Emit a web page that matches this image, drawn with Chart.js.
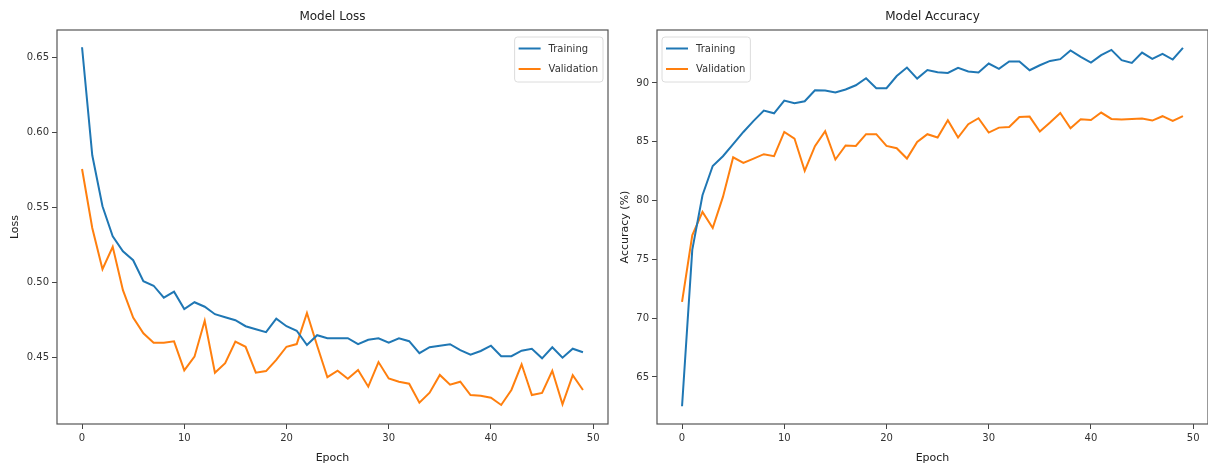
<!DOCTYPE html>
<html><head><meta charset="utf-8">
<script src="https://cdn.jsdelivr.net/npm/chart.js@4.4.1/dist/chart.umd.min.js"></script>
<style>
html,body{margin:0;padding:0;background:#fff;overflow:hidden;width:1208px;height:471px}
#c1{position:absolute;left:0;top:0}
#c2{position:absolute;left:612px;top:0}
</style></head><body>
<canvas id="c1" width="612" height="471"></canvas>
<canvas id="c2" width="596" height="471"></canvas>
<script>
const epochs = [0,1,2,3,4,5,6,7,8,9,10,11,12,13,14,15,16,17,18,19,20,21,22,23,24,25,26,27,28,29,30,31,32,33,34,35,36,37,38,39,40,41,42,43,44,45,46,47,48,49];
const trainLoss = [0.657,0.585,0.551,0.531,0.521,0.515,0.501,0.498,0.490,0.494,0.4825,0.487,0.484,0.479,0.477,0.475,0.471,0.469,0.467,0.476,0.471,0.468,0.4585,0.465,0.463,0.463,0.463,0.459,0.462,0.463,0.460,0.463,0.461,0.453,0.457,0.458,0.459,0.455,0.452,0.4545,0.458,0.451,0.451,0.4547,0.456,0.4496,0.457,0.450,0.456,0.4536];
const valLoss = [0.5758,0.5365,0.509,0.524,0.495,0.4767,0.4663,0.460,0.460,0.4609,0.4416,0.4507,0.4747,0.440,0.4463,0.4607,0.4573,0.440,0.4411,0.4485,0.4573,0.4591,0.4798,0.458,0.437,0.4413,0.436,0.4418,0.4307,0.4471,0.4362,0.434,0.4327,0.420,0.4267,0.4385,0.432,0.434,0.4251,0.4247,0.4233,0.4185,0.4285,0.4456,0.4251,0.4265,0.4413,0.4189,0.4383,0.4285];
const trainAcc = [62.51,75.8,80.45,82.94,83.77,84.79,85.83,86.77,87.65,87.42,88.5,88.27,88.44,89.38,89.35,89.18,89.44,89.8,90.4,89.55,89.55,90.59,91.31,90.37,91.1,90.91,90.85,91.28,90.97,90.88,91.65,91.19,91.82,91.82,91.08,91.5,91.87,92.02,92.76,92.21,91.73,92.36,92.81,91.93,91.7,92.58,92.04,92.47,91.99,92.98];
const valAcc = [71.38,77.05,79.03,77.67,80.31,83.68,83.2,83.57,83.94,83.77,85.83,85.27,82.52,84.62,85.89,83.49,84.68,84.64,85.64,85.64,84.64,84.45,83.57,84.98,85.64,85.36,86.83,85.36,86.49,87.0,85.78,86.2,86.26,87.11,87.14,85.87,86.63,87.45,86.15,86.91,86.85,87.48,86.94,86.88,86.94,86.97,86.8,87.17,86.77,87.17];
const xTickLabels = ['0','10','20','30','40','50'];
const lossTickLabels = ['0.45','0.50','0.55','0.60','0.65'];
const accTickLabels = ['65','70','75','80','85','90'];
const seriesNames = ['Training','Validation'];
const lossRange = [0.4058, 0.6685];
const accRange = [61.0, 94.5];
const xRange = [-2.45, 51.45];

const BLUE = '#1f77b4', ORANGE = '#ff7f0e';
const FONT = '"DejaVu Sans", sans-serif';

const boxPlugin = {
  id: 'box',
  afterDraw(chart) {
    const {ctx, chartArea: a} = chart;
    ctx.save();
    ctx.strokeStyle = '#555';
    ctx.lineWidth = 1.2;
    ctx.strokeRect(a.left, a.top, a.right - a.left, a.bottom - a.top);
    ctx.restore();
  }
};

function legendPlugin(side) {
  return {
    id: 'lg',
    afterDatasetsDraw(chart) {
      const {ctx, chartArea: a} = chart;
      const ds = chart.data.datasets;
      ctx.save();
      ctx.font = '10px ' + FONT;
      const tw = Math.max(...ds.map(d => ctx.measureText(d.label).width));
      const w = 34 + tw + 5, h = 45;
      const x0 = side === 'right' ? a.right - 5 - w : a.left + 5;
      const y0 = a.top + 7;
      ctx.beginPath();
      ctx.roundRect(x0, y0, w, h, 3);
      ctx.fillStyle = 'rgba(255,255,255,0.85)';
      ctx.fill();
      ctx.strokeStyle = '#dcdcdc';
      ctx.lineWidth = 1;
      ctx.stroke();
      ds.forEach((d, i) => {
        const cy = y0 + 11.5 + i * 20.5;
        ctx.beginPath();
        ctx.moveTo(x0 + 4, cy);
        ctx.lineTo(x0 + 26, cy);
        ctx.strokeStyle = d.borderColor;
        ctx.lineWidth = 2;
        ctx.stroke();
        ctx.fillStyle = '#333';
        ctx.textBaseline = 'middle';
        ctx.textAlign = 'left';
        ctx.fillText(d.label, x0 + 34, cy + 0.5);
      });
      ctx.restore();
    }
  };
}

function makeChart(id, title, yTitle, series, yLabels, yRange, yWidth, yTitlePad, padRight, legendSide) {
  const yVals = yLabels.map(parseFloat);
  const xVals = xTickLabels.map(parseFloat);
  return new Chart(document.getElementById(id), {
    type: 'line',
    data: {
      datasets: series.map((s, k) => ({
        label: seriesNames[k],
        data: epochs.map((e, i) => ({x: e, y: s[i]})),
        borderColor: k === 0 ? BLUE : ORANGE,
        backgroundColor: k === 0 ? BLUE : ORANGE,
        borderWidth: 2,
        pointRadius: 0,
        tension: 0,
        fill: false
      }))
    },
    options: {
      responsive: false,
      animation: false,
      events: [],
      layout: {padding: {left: 0, right: padRight, top: 0, bottom: 0}},
      plugins: {
        legend: {display: false},
        tooltip: {enabled: false},
        title: {
          display: true, text: title, fullSize: false,
          color: '#222',
          font: {family: FONT, size: 12, weight: 'normal'},
          padding: {top: 10, bottom: 5.6}
        }
      },
      scales: {
        x: {
          type: 'linear', min: xRange[0], max: xRange[1],
          afterBuildTicks: s => { s.ticks = xVals.map(v => ({value: v})); },
          afterFit: s => { s.height = 47; },
          ticks: {
            autoSkip: false, maxRotation: 0, padding: 3,
            color: '#333', font: {family: FONT, size: 10},
            callback: v => xTickLabels[xVals.indexOf(v)]
          },
          grid: {drawOnChartArea: false, drawTicks: true, tickLength: 5, color: '#444', lineWidth: 1},
          border: {display: false},
          title: {display: true, text: 'Epoch', color: '#222', font: {family: FONT, size: 11}, padding: {top: 0, bottom: 6.4}}
        },
        y: {
          type: 'linear', min: yRange[0], max: yRange[1],
          afterBuildTicks: s => { s.ticks = yVals.map(v => ({value: v})); },
          afterFit: s => { s.width = yWidth; },
          ticks: {
            autoSkip: false, padding: 3,
            color: '#333', font: {family: FONT, size: 10},
            callback: v => yLabels[yVals.indexOf(v)]
          },
          grid: {drawOnChartArea: false, drawTicks: true, tickLength: 5, color: '#444', lineWidth: 1},
          border: {display: false},
          title: {display: true, text: yTitle, color: '#222', font: {family: FONT, size: 11}, padding: {top: yTitlePad, bottom: 0}}
        }
      }
    },
    plugins: [boxPlugin, legendPlugin(legendSide)]
  });
}

makeChart('c1', 'Model Loss', 'Loss', [trainLoss, valLoss], lossTickLabels, lossRange, 57, 8.1, 4, 'right');
makeChart('c2', 'Model Accuracy', 'Accuracy (%)', [trainAcc, valAcc], accTickLabels, accRange, 45, 6.4, 0, 'left');
</script>
</body></html>
